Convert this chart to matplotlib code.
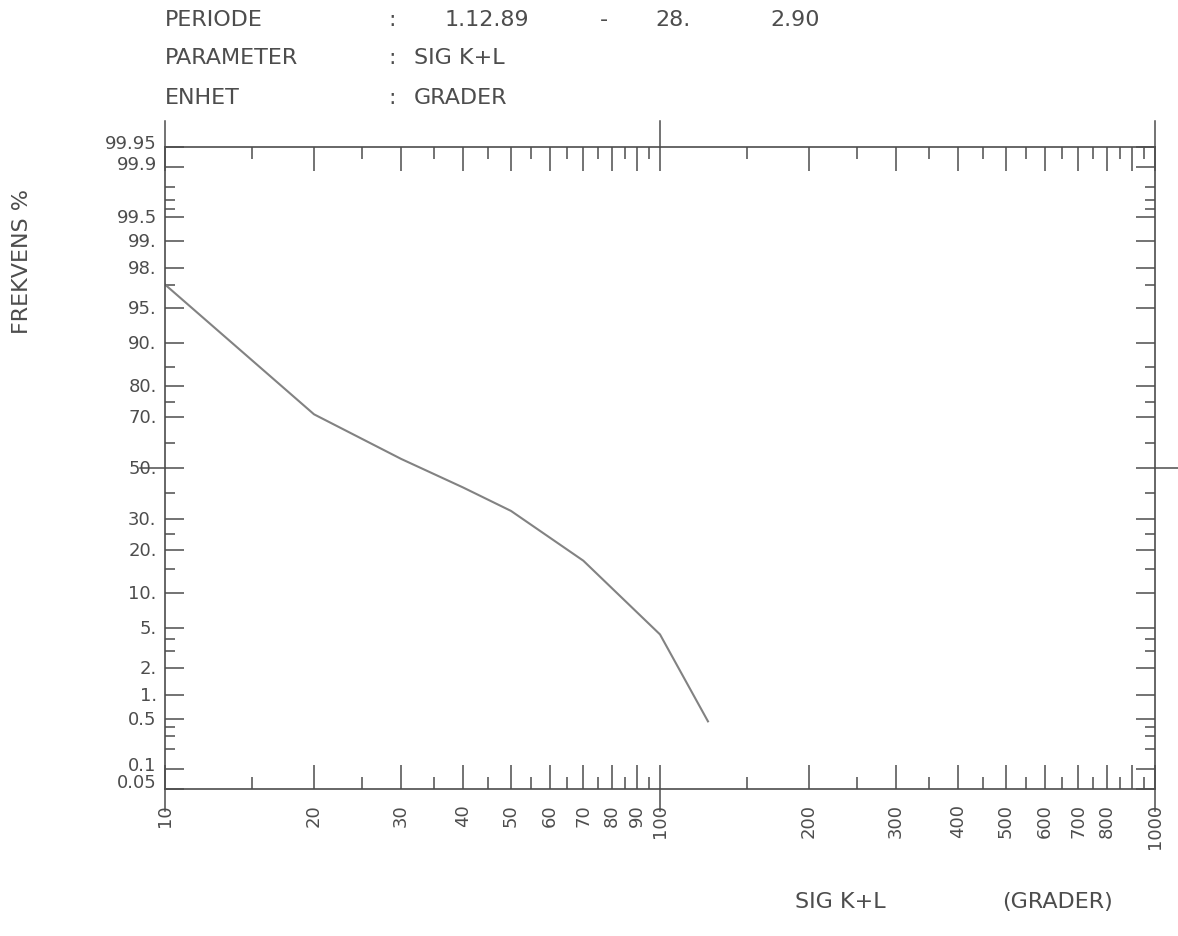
import numpy as np
import matplotlib
matplotlib.use("Agg")
import matplotlib.pyplot as plt
import matplotlib.transforms as mtransforms
from statistics import NormalDist

# values
sig = [10, 20, 30, 40, 50, 70, 100, 125]
freq = [97.0, 70.9, 53.7, 42.1, 33.0, 17.1, 4.4, 0.47]

y_major = [99.95, 99.9, 99.5, 99, 98, 95, 90, 80, 70, 50, 30, 20, 10, 5, 2, 1, 0.5, 0.1, 0.05]
y_labels = ["99.95", "99.9", "99.5", "99.", "98.", "95.", "90.", "80.", "70.", "50.",
            "30.", "20.", "10.", "5.", "2.", "1.", "0.5", "0.1", "0.05"]
y_minor = [99.8, 99.7, 99.6, 97, 85, 75, 60, 40, 25, 15, 4, 3, 0.4, 0.3, 0.2]
x_major = [10, 20, 30, 40, 50, 60, 70, 80, 90, 100, 200, 300, 400, 500, 600, 700, 800, 900, 1000]
x_labels = ["10", "20", "30", "40", "50", "60", "70", "80", "90", "100",
            "200", "300", "400", "500", "600", "700", "800", "", "1000"]
x_minor = [15, 25, 35, 45, 55, 65, 75, 85, 95, 150, 250, 350, 450, 550, 650, 750, 850, 950]

W, H = 1178, 937
ink = "#4d4d4d"
nd = NormalDist()


def fwd(p):
    p = np.clip(np.asarray(p, dtype=float), 1e-4, 100 - 1e-4)
    return np.vectorize(nd.inv_cdf, otypes=[float])(p / 100)


def inv(z):
    return 100 * np.vectorize(nd.cdf, otypes=[float])(np.asarray(z, dtype=float))


def px(x, y):
    return x / W, 1 - y / H


fig = plt.figure(figsize=(W / 100, H / 100), dpi=100)
ax = fig.add_axes([165 / W, 1 - 790 / H, 990 / W, 642 / H])
ax.set_xscale("log")
ax.set_yscale("function", functions=(fwd, inv))
ax.set_xlim(10, 1000)
ax.set_ylim(0.05, 99.95)

ax.plot(sig, freq, color="#828282", lw=1.5)

ax.set_xticks(x_major)
ax.set_xticklabels(x_labels, rotation=90, va="top", fontsize=13, color=ink)
ax.set_xticks(x_minor, minor=True)
ax.set_yticks(y_major)
ax.set_yticklabels(y_labels, fontsize=13, color=ink)
ax.set_yticks(y_minor, minor=True)
ax.tick_params(axis="x", which="both", direction="in", top=True, bottom=True,
               color=ink, width=1.1, pad=10)
ax.tick_params(axis="x", which="major", length=17)
ax.tick_params(axis="x", which="minor", length=8.5, labelbottom=False)
ax.tick_params(axis="y", which="both", direction="in", left=True, right=True,
               color=ink, width=1.1, pad=6)
ax.tick_params(axis="y", which="major", length=13.5)
ax.tick_params(axis="y", which="minor", length=7)
for s in ax.spines.values():
    s.set_color(ink)
    s.set_linewidth(1.2)

# y labels sit a little above their ticks, most at the ends of the scale
lift = {"99.95": 6, "99.9": 5, "0.1": 6, "0.05": 9}
for lab in ax.get_yticklabels():
    dy = lift.get(lab.get_text(), 2)
    lab.set_transform(lab.get_transform() + mtransforms.ScaledTranslation(0, dy / 100, fig.dpi_scale_trans))

# outward extensions of the 10 / 100 / 1000 and 50 % lines
for xv in [10, 100, 1000]:
    ax.axvline(xv, ymin=1, ymax=1.04, color=ink, lw=1.1, clip_on=False)
    ax.axvline(xv, ymin=-0.035, ymax=0, color=ink, lw=1.1, clip_on=False)
ax.axhline(50, xmin=-0.025, xmax=0, color=ink, lw=1.1, clip_on=False)
ax.axhline(50, xmin=1, xmax=1.025, color=ink, lw=1.1, clip_on=False)

# header
hdr = dict(fontsize=16, color=ink, va="center", ha="left")
rows = [(20, "PERIODE", None), (58, "PARAMETER", "SIG K+L"), (98, "ENHET", "GRADER")]
for y, name, val in rows:
    fig.text(*px(165, y), name, **hdr)
    fig.text(*px(388, y), ":", **hdr)
    if val:
        fig.text(*px(414, y), val, **hdr)
fig.text(*px(445, 20), "1.12.89", **hdr)
fig.text(*px(600, 20), "-", **hdr)
fig.text(*px(655, 20), "28.", **hdr)
fig.text(*px(770, 20), "2.90", **hdr)

fig.text(*px(22, 262), "FREKVENS %", rotation=90, fontsize=16, color=ink,
         ha="center", va="center")
fig.text(*px(840, 902), "SIG K+L", fontsize=16, color=ink, ha="center", va="center")
fig.text(*px(1058, 902), "(GRADER)", fontsize=16, color=ink, ha="center", va="center")

fig.savefig("out.png", dpi=100, facecolor="white")
